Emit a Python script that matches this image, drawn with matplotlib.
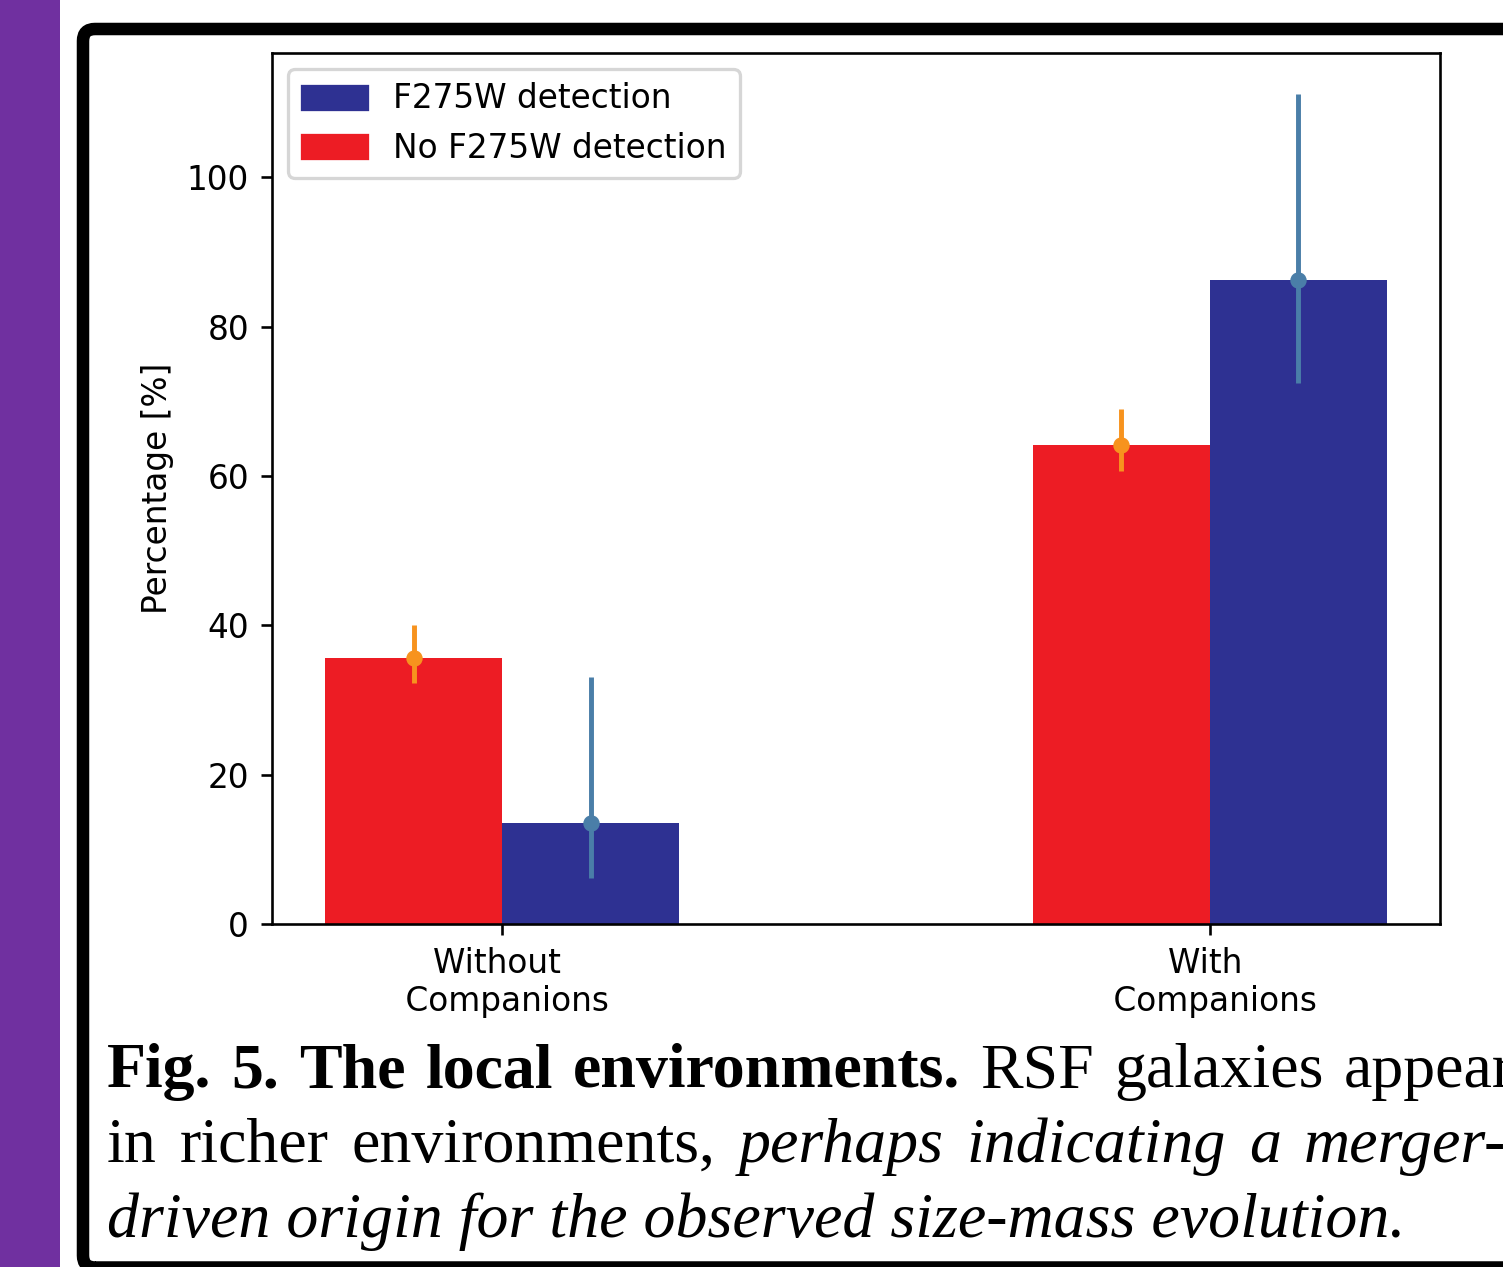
import numpy as np
import matplotlib
matplotlib.use("Agg")
import matplotlib.pyplot as plt
from matplotlib.patches import Patch, Rectangle, FancyBboxPatch

groups = ["Without \n Companions", "With \n Companions"]
nodet = [35.6, 64.2]
nodet_lo = [3.35, 3.5]
nodet_hi = [4.45, 4.8]
det = [13.55, 86.2]
det_lo = [7.4, 13.7]
det_hi = [19.55, 24.9]

W, H, DPI = 1503, 1267, 236
fig = plt.figure(figsize=(W / DPI, H / DPI), dpi=DPI)

# slide decoration: purple strip and rounded black frame
fig.patches.append(Rectangle((0, 0), 60 / W, 1, transform=fig.transFigure,
                             facecolor="#7030A0", edgecolor="none", zorder=0))
fig.patches.append(FancyBboxPatch((83 / DPI, -0.5 / DPI), 1500 / DPI, (H - 28.5) / DPI,
                                  boxstyle="round,pad=0,rounding_size=%f" % (12 / DPI),
                                  transform=fig.dpi_scale_trans, facecolor="none",
                                  edgecolor="black", linewidth=12.5 / DPI * 72, zorder=1))

ax = fig.add_axes([272 / W, 1 - 924 / H, (1440 - 272) / W, (924 - 53) / H])

x = np.arange(len(groups))
w = 0.25
ax.bar(x - w / 2, nodet, w, color="#ED1C24")
ax.bar(x + w / 2, det, w, color="#2E3192")
ax.errorbar(x - w / 2, nodet, yerr=[nodet_lo, nodet_hi], fmt="o", ms=4, color="#F7931E")
ax.errorbar(x + w / 2, det, yerr=[det_lo, det_hi], fmt="o", ms=4, color="#4A7EA8")

ax.set_xticks(x)
ax.set_xticklabels(groups)
ax.set_ylabel("Percentage [%]")
ax.legend(handles=[Patch(color="#2E3192", label="F275W detection"),
                   Patch(color="#ED1C24", label="No F275W detection")],
          loc="upper left")

# caption, laid out word by word (justified lines)
renderer = fig.canvas.get_renderer()
cap = dict(family="Liberation Serif", size=19.5, va="baseline")

def line(px, py, words, gap=None):
    for word, kw in words:
        t = fig.text(px / W, 1 - py / H, word, **cap, **kw)
        if gap is not None:
            px = t.get_window_extent(renderer).x1 + gap

B = dict(weight="bold")
R = dict()
I = dict(style="italic")
line(107, 1087, [("Fig.", B), ("5.", B), ("The", B), ("local", B), ("environments.", B),
                 ("RSF", R), ("galaxies", R), ("appear", R)], gap=20)
line(107, 1162, [("in", R), ("richer", R), ("environments,", R), ("perhaps", I),
                 ("indicating", I), ("a", I), ("merger-", I)], gap=23)
line(107, 1237, [("driven origin for the observed size-mass evolution.", I)])

fig.savefig("out.png", dpi=DPI)
